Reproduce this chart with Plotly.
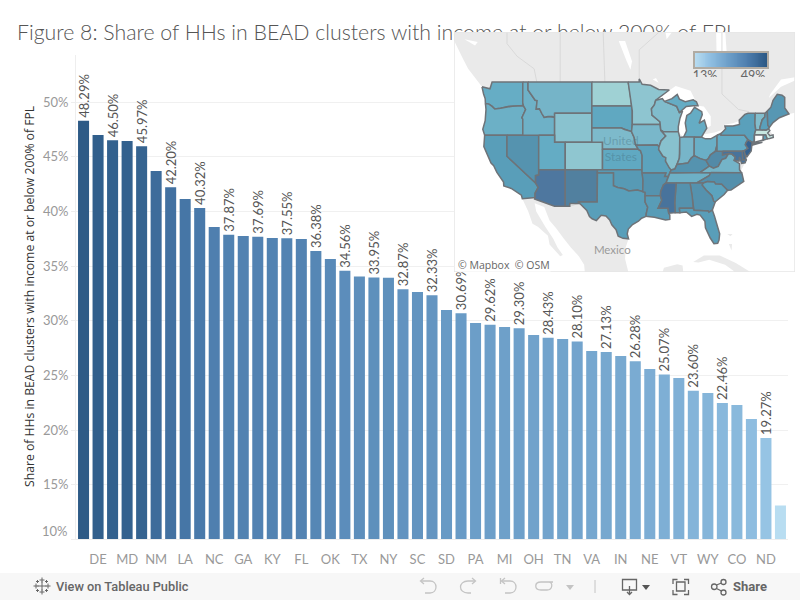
import math
import numpy as np
import plotly.graph_objects as go

# ---------- data ----------
states = ["NJ","DE","MS","MD","AZ","NM","DC","LA","WV","NC","AL","GA","AR","KY","NV","FL","ME","OK","CA","TX","NH","NY","MO","SC","RI","SD","KS","PA","UT","MI","WA","OH","OR","TN","ID","VA","MT","IN","IA","NE","WI","VT","IL","WY","MN","CO","AK","ND","MA"]
values = [48.29,47.00,46.50,46.44,45.97,43.70,42.20,41.13,40.32,38.57,37.87,37.76,37.69,37.56,37.55,37.47,36.38,35.65,34.56,34.05,33.95,33.93,32.87,32.63,32.33,30.98,30.69,29.79,29.62,29.42,29.30,28.69,28.43,28.33,28.10,27.23,27.13,26.77,26.28,25.58,25.07,24.76,23.60,23.39,22.46,22.29,21.00,19.27,13.10]
labeled = [0,2,4,6,8,10,12,14,16,18,20,22,24,26,28,30,32,34,36,38,40,42,44,47]
axis_labeled = ["DE","MD","NM","LA","NC","GA","KY","FL","OK","TX","NY","SC","SD","PA","MI","OH","TN","VA","IN","NE","VT","WY","CO","ND"]
y_ticks = [10,15,20,25,30,35,40,45,50]
legend_ticks = ["13%","49%"]
legend_range = [13,49]
title_text = "Figure 8: Share of HHs in BEAD clusters with income at or below 200% of FPL"
y_title = "Share of HHs in BEAD clusters with income at or below 200% of FPL"
map_overrides = {"LA":35.0,"FL":34.5}

bar_scale = [[0,"#b9ddf1"],[0.2,"#91c0e2"],[0.47,"#6c9ec8"],[0.75,"#4a7aab"],[1,"#2a5783"]]
map_scale = [(13,"#c8e8e2"),(19.3,"#9fd1d4"),(23,"#8cc4d0"),(27,"#76b5c9"),(30,"#62abc4"),(34,"#5aa0bb"),(38,"#5592ae"),(43.7,"#51809f"),(46,"#4e77a0"),(47,"#426f99"),(49,"#2f5c8c")]

shapes_ll = {
"WA":[(-124.7,48.4),(-123.2,48.15),(-122.8,49),(-117.03,49),(-117.04,46.4),(-116.92,46),(-119,45.93),(-119.6,45.92),(-121.2,45.65),(-122.3,45.55),(-122.8,45.9),(-123.4,46.2),(-124.05,46.27),(-124.1,46.9),(-124.4,47.5)],
"OR":[(-124.05,46.27),(-123.4,46.2),(-122.8,45.9),(-122.3,45.55),(-121.2,45.65),(-119.6,45.92),(-119,45.93),(-116.92,46),(-116.5,45.5),(-117.2,44.4),(-117.03,44.2),(-117.03,42),(-124.2,42),(-124.55,42.84),(-124.1,44),(-123.95,45.5)],
"CA":[(-124.2,42),(-120,42),(-120,39),(-114.63,35),(-114.14,34.3),(-114.72,33.4),(-114.72,32.72),(-117.12,32.53),(-117.3,33.1),(-118.4,33.75),(-119.2,34.15),(-120.6,34.55),(-120.65,35.15),(-121.9,36.6),(-122.5,37.6),(-123,38),(-123.8,39.3),(-124.35,40.4)],
"NV":[(-120,42),(-114.04,42),(-114.04,36.2),(-114.63,36.1),(-114.63,35),(-120,39)],
"ID":[(-117.03,49),(-116.05,49),(-116.05,48),(-114.7,46.7),(-114.35,46.65),(-114.5,45.55),(-113.9,45.6),(-113.45,44.95),(-113,44.45),(-112.3,44.55),(-111.5,44.55),(-111.05,44.48),(-111.05,42),(-117.03,42),(-117.03,44.2),(-117.2,44.4),(-116.5,45.5),(-116.92,46),(-117.04,46.4)],
"MT":[(-116.05,49),(-104.05,49),(-104.05,45),(-111.05,45),(-111.05,44.48),(-111.5,44.55),(-112.3,44.55),(-113,44.45),(-113.45,44.95),(-113.9,45.6),(-114.5,45.55),(-114.35,46.65),(-114.7,46.7),(-116.05,48)],
"WY":[(-111.05,45),(-104.05,45),(-104.05,41),(-111.05,41)],
"UT":[(-114.04,42),(-111.05,42),(-111.05,41),(-109.05,41),(-109.05,37),(-114.04,37)],
"CO":[(-109.05,41),(-102.05,41),(-102.05,37),(-109.05,37)],
"AZ":[(-114.04,37),(-109.05,37),(-109.05,31.33),(-111.07,31.33),(-114.81,32.5),(-114.72,32.72),(-114.72,33.4),(-114.14,34.3),(-114.63,35),(-114.63,36.1),(-114.04,36.2)],
"NM":[(-109.05,37),(-103,37),(-103.05,32),(-106.6,32),(-106.5,31.78),(-108.2,31.78),(-108.2,31.33),(-109.05,31.33)],
"ND":[(-104.05,49),(-97.23,49),(-96.85,47.6),(-96.56,45.94),(-104.05,45.94)],
"SD":[(-104.05,45.94),(-96.56,45.94),(-96.45,45.3),(-96.45,43.5),(-96.6,42.5),(-97.9,42.8),(-98.5,43),(-104.05,43)],
"NE":[(-104.05,43),(-98.5,43),(-97.9,42.8),(-96.6,42.5),(-96.1,41.7),(-95.85,40.7),(-95.3,40),(-102.05,40),(-102.05,41),(-104.05,41)],
"KS":[(-102.05,40),(-95.3,40),(-94.9,39.8),(-94.6,39.1),(-94.62,37),(-102.05,37)],
"OK":[(-103,37),(-94.62,37),(-94.43,35.4),(-94.48,33.64),(-95.5,33.9),(-97.1,33.75),(-98,34.1),(-99.2,34.3),(-100,34.56),(-100,36.5),(-103,36.5)],
"TX":[(-106.6,32),(-103.05,32),(-103,36.5),(-100,36.5),(-100,34.56),(-99.2,34.3),(-98,34.1),(-97.1,33.75),(-95.5,33.9),(-94.48,33.64),(-94.04,33.55),(-94.04,32),(-93.55,31.2),(-93.83,30.1),(-93.85,29.7),(-94.7,29.4),(-95.3,28.9),(-96.4,28.35),(-97.2,27.6),(-97.4,26.8),(-97.15,25.96),(-98.2,26.05),(-99.1,26.4),(-99.5,27.5),(-100.3,28.3),(-100.7,29.1),(-101.4,29.77),(-102.3,29.88),(-102.8,29.3),(-103.2,29),(-104,29.3),(-104.5,29.65),(-105,30.65),(-106.5,31.78)],
"MN":[(-97.23,49),(-95.15,49),(-95.15,49.38),(-94.6,48.72),(-93,48.6),(-91.5,48.07),(-89.5,48),(-90.8,47.3),(-92.05,46.7),(-92.3,46.1),(-92.85,45.6),(-92.75,44.75),(-91.25,43.85),(-91.22,43.5),(-96.45,43.5),(-96.45,45.3),(-96.56,45.94),(-96.85,47.6)],
"IA":[(-96.45,43.5),(-91.22,43.5),(-91.1,42.7),(-90.15,41.9),(-91.05,41.2),(-91.42,40.38),(-91.73,40.61),(-95.77,40.58),(-95.85,40.7),(-96.1,41.7),(-96.6,42.5)],
"MO":[(-95.77,40.58),(-91.73,40.61),(-91.42,40.38),(-91.5,40),(-90.7,39),(-90.15,38.8),(-90.2,38.3),(-89.5,37.3),(-89.15,36.98),(-89.4,36.5),(-89.7,36),(-90.37,36),(-90.15,36.5),(-94.62,36.5),(-94.62,37),(-94.6,39.1),(-94.9,39.8),(-95.3,40),(-95.85,40.7)],
"AR":[(-94.62,36.5),(-90.15,36.5),(-90.37,36),(-89.7,36),(-90.1,35),(-90.6,34.7),(-91.1,33.7),(-91.17,33),(-94.04,33),(-94.04,33.55),(-94.48,33.64),(-94.43,35.4)],
"LA":[(-94.04,33),(-91.17,33),(-90.9,32.3),(-91.6,31),(-89.73,31),(-89.6,30.2),(-89.4,29.9),(-89.4,29.2),(-90.2,29.1),(-91.3,29.4),(-92.3,29.55),(-93.85,29.7),(-93.83,30.1),(-93.55,31.2),(-94.04,32)],
"WI":[(-92.05,46.7),(-90.8,46.9),(-90.4,46.55),(-88.1,45.9),(-87.6,45.1),(-87,45.3),(-87.5,44.3),(-87.8,43.2),(-87.8,42.5),(-90.65,42.5),(-91.1,42.7),(-91.22,43.5),(-91.25,43.85),(-92.75,44.75),(-92.85,45.6),(-92.3,46.1)],
"IL":[(-90.65,42.5),(-87.8,42.5),(-87.53,41.7),(-87.53,39.35),(-87.6,38.7),(-88.05,37.8),(-88.45,37.1),(-89.15,36.98),(-89.5,37.3),(-90.2,38.3),(-90.15,38.8),(-90.7,39),(-91.5,40),(-91.42,40.38),(-91.05,41.2),(-90.15,41.9),(-91.1,42.7)],
"MI":[(-86.8,41.76),(-84.8,41.76),(-83.45,41.73),(-83.1,42.2),(-82.45,43),(-82.9,44.07),(-83.9,43.65),(-83.3,44.8),(-83.4,45.2),(-84.75,45.78),(-85.5,45),(-86.2,44.7),(-86.5,43.7),(-86.25,42.6)],
"MI_UP":[(-90.4,46.55),(-89,46.9),(-88,47.45),(-87.6,46.85),(-86.5,46.5),(-85,46.75),(-84.4,46.5),(-84.1,46),(-85,46),(-86.3,45.9),(-87.6,45.1),(-88.1,45.9)],
"IN":[(-87.53,41.7),(-86.8,41.76),(-84.8,41.76),(-84.82,39.1),(-85.4,38.7),(-86,38),(-87,37.9),(-88.05,37.8),(-87.6,38.7),(-87.53,39.35)],
"OH":[(-84.8,41.76),(-83.45,41.73),(-82.7,41.5),(-81.7,41.5),(-80.52,42),(-80.52,40.64),(-80.85,39.7),(-81.75,39.2),(-82.2,38.6),(-82.6,38.4),(-83.7,38.65),(-84.82,39.1)],
"KY":[(-89.4,36.5),(-89.15,36.98),(-88.45,37.1),(-88.05,37.8),(-87,37.9),(-86,38),(-85.4,38.7),(-84.82,39.1),(-83.7,38.65),(-82.6,38.4),(-81.97,37.54),(-83.67,36.6),(-88.07,36.5)],
"TN":[(-90.1,35),(-89.7,36),(-89.4,36.5),(-88.07,36.5),(-83.67,36.6),(-81.68,36.59),(-82,36.1),(-84.32,35)],
"WV":[(-82.6,38.4),(-82.2,38.6),(-81.75,39.2),(-80.85,39.7),(-80.52,40.64),(-80.52,39.72),(-79.48,39.72),(-79.48,39.2),(-78.35,39.4),(-78.9,38.7),(-79.6,38.5),(-80.3,37.5),(-81.2,37.25),(-81.97,37.54)],
"VA":[(-83.67,36.6),(-81.97,37.54),(-81.2,37.25),(-80.3,37.5),(-79.6,38.5),(-78.9,38.7),(-78.35,39.4),(-77.72,39.32),(-77.1,38.9),(-77.3,38.4),(-76.3,37.9),(-76.3,37),(-75.95,36.55),(-81.68,36.59)],
"NC":[(-81.68,36.59),(-75.87,36.55),(-75.5,35.25),(-76.5,34.65),(-77.9,33.9),(-78.55,33.86),(-79.67,34.8),(-80.8,34.82),(-81.05,35.15),(-82.3,35.2),(-83.1,35),(-84.32,35),(-82,36.1)],
"SC":[(-83.1,35),(-82.3,35.2),(-81.05,35.15),(-80.8,34.82),(-79.67,34.8),(-78.55,33.86),(-79.2,33.2),(-80.85,32.05),(-81.15,32.1),(-81.5,33),(-82.6,33.9),(-83.35,34.7)],
"GA":[(-85.6,35),(-84.32,35),(-83.1,35),(-83.35,34.7),(-82.6,33.9),(-81.5,33),(-81.15,32.1),(-80.85,32.05),(-81.4,30.72),(-82.05,30.36),(-82.2,30.57),(-84.86,30.7),(-85,31.5),(-85.18,32.87)],
"AL":[(-88.2,35),(-85.6,35),(-85.18,32.87),(-85,31.5),(-85,31),(-87.6,31),(-87.5,30.3),(-88.4,30.3),(-88.47,31.9)],
"MS":[(-90.1,35),(-88.2,35),(-88.47,31.9),(-88.4,30.3),(-89.6,30.2),(-89.73,31),(-91.6,31),(-90.9,32.3),(-91.17,33),(-91.1,33.7),(-90.6,34.7)],
"FL":[(-87.6,31),(-85,31),(-84.86,30.7),(-82.2,30.57),(-82.05,30.36),(-81.4,30.72),(-81,29.7),(-80.5,28.4),(-80.03,26.8),(-80.15,25.75),(-80.4,25.2),(-81.1,25.15),(-81.8,26.1),(-82.7,27.8),(-82.8,28.9),(-83.7,29.9),(-84.3,30.05),(-85.3,29.7),(-86.3,30.4),(-87.5,30.3)],
"PA":[(-80.52,42),(-79.76,42.25),(-79.76,42),(-75.35,42),(-74.7,41.36),(-75.1,40.95),(-75.2,40.65),(-74.72,40.15),(-75.4,39.8),(-75.79,39.72),(-80.52,39.72)],
"NY":[(-79.76,42.25),(-78.9,42.9),(-79.05,43.27),(-77.5,43.27),(-76.3,43.5),(-76.35,44.1),(-75.3,44.85),(-74.7,45),(-73.35,45),(-73.4,43.6),(-73.25,42.75),(-73.5,42.05),(-73.5,41.3),(-73.65,41),(-73.9,41),(-74.7,41.36),(-75.35,42),(-79.76,42)],
"NY_LI":[(-74,40.6),(-72,41),(-73.7,40.9)],
"VT":[(-73.35,45),(-71.5,45),(-71.55,44.5),(-72.05,44.1),(-72.45,43.1),(-72.46,42.73),(-73.25,42.75),(-73.4,43.6)],
"NH":[(-71.5,45),(-71.08,45.3),(-70.98,43.4),(-70.7,43.07),(-70.85,42.87),(-71.3,42.7),(-72.46,42.73),(-72.45,43.1),(-72.05,44.1),(-71.55,44.5)],
"ME":[(-71.08,45.3),(-70.4,45.8),(-70,46.7),(-69.2,47.45),(-68.3,47.35),(-67.8,47.07),(-67.8,45.7),(-67,44.9),(-68.8,44.4),(-70,43.75),(-70.7,43.07),(-70.98,43.4)],
"MA":[(-73.5,42.05),(-73.25,42.75),(-72.46,42.73),(-71.3,42.7),(-70.85,42.87),(-70.6,42.65),(-71,42.3),(-70.6,41.95),(-70,42.05),(-69.95,41.7),(-70.65,41.55),(-71.12,41.5),(-71.38,42.02),(-71.8,42.02)],
"CT":[(-73.5,42.05),(-71.8,42.02),(-71.85,41.32),(-73.65,41),(-73.5,41.3)],
"RI":[(-71.8,42.02),(-71.38,42.02),(-71.12,41.5),(-71.85,41.32)],
"NJ":[(-74.7,41.36),(-73.9,41),(-74,40.5),(-74.1,39.75),(-74.9,38.93),(-75.5,39.5),(-75.4,39.8),(-74.72,40.15),(-75.2,40.65),(-75.1,40.95)],
"DE":[(-75.79,39.72),(-75.4,39.8),(-75.05,38.45),(-75.7,38.46)],
"MD":[(-79.48,39.72),(-75.79,39.72),(-75.7,38.46),(-75.05,38.45),(-75.25,38.03),(-75.9,37.95),(-76.3,38.9),(-76.4,38.3),(-77.3,38.4),(-77.1,38.9),(-77.72,39.32),(-78.35,39.4),(-79.48,39.2)],
}
land_ll = [(-131,56),(-130.5,54.5),(-128.3,51.8),(-127.3,50.6),(-124.7,48.4),(-124.1,46.9),(-124.05,46.27),(-123.95,45.5),(-124.1,44),(-124.55,42.84),(-124.2,42),(-124.35,40.4),(-123.8,39.3),(-123,38),(-122.5,37.6),(-121.9,36.6),(-120.65,35.15),(-120.6,34.55),(-119.2,34.15),(-118.4,33.75),(-117.3,33.1),(-117.12,32.53),(-116,30.5),(-115.2,28.5),(-114.2,28),(-112.3,26.5),(-112,25),(-110,23),(-109.5,23.2),(-110.5,24.5),(-111.3,26),(-112.8,28),(-114.5,30.5),(-114.8,31.8),(-113,31.2),(-112,29),(-110.8,27.8),(-109.3,26),(-108,24.5),(-106.5,23),(-105.5,21.5),(-105.3,19.5),(-97,19.5),(-97.8,22.5),(-97.7,24.5),(-97.15,25.96),(-97.4,26.8),(-97.2,27.6),(-96.4,28.35),(-95.3,28.9),(-94.7,29.4),(-93.85,29.7),(-92.3,29.55),(-91.3,29.4),(-90.2,29.1),(-89.4,29.2),(-89.4,29.9),(-88.4,30.3),(-87.5,30.3),(-86.3,30.4),(-85.3,29.7),(-84.3,30.05),(-83.7,29.9),(-82.8,28.9),(-82.7,27.8),(-81.8,26.1),(-81.1,25.15),(-80.4,25.2),(-80.15,25.75),(-80.03,26.8),(-80.5,28.4),(-81,29.7),(-81.4,30.72),(-80.85,32.05),(-79.2,33.2),(-77.9,33.9),(-76.5,34.65),(-75.5,35.25),(-75.87,36.55),(-75.95,37),(-75.25,38.03),(-75.05,38.45),(-74.9,38.93),(-74.1,39.75),(-74,40.5),(-72,41),(-70.65,41.55),(-69.95,41.7),(-70,42.05),(-70.85,42.87),(-70.7,43.07),(-70,43.75),(-68.8,44.4),(-67,44.9),(-65,45.2),(-63,47),(-63,56)]
other_land_ll = [
 [(-85,22),(-83,23.1),(-80,23.1),(-77,21.8),(-74.2,20.2),(-77,19.8),(-77.5,20.5),(-79,21.5),(-82,22.4),(-84,21.9)],
 [(-90.5,21),(-88,21.6),(-87,21.4),(-86.8,19.5),(-91,19.5)],
 [(-78.6,26.8),(-77.6,26.8),(-78,26.4)],
 [(-78.3,25.1),(-77.7,25.1),(-77.8,24)],
]
lakes_ll = [
 [(-92,46.75),(-88.3,48.5),(-85.5,47.9),(-84.6,46.7),(-85,46.75),(-86.5,46.5),(-87.6,46.85),(-88,47.45),(-89,46.9),(-90.4,46.55),(-90.8,46.9)],
 [(-87.8,42.5),(-86.8,41.7),(-86.25,42.6),(-86.5,43.7),(-86.2,44.7),(-85.5,45),(-84.75,45.78),(-85,46),(-86.3,45.9),(-87.6,45.1),(-87.5,44.3),(-87.8,43.2)],
 [(-84.1,46),(-83,45.9),(-81.7,44.6),(-81.7,43.3),(-82.45,43),(-82.9,44.07),(-83.9,43.65),(-83.3,44.8),(-83.4,45.2),(-84.75,45.78)],
 [(-83.45,41.73),(-83.1,42.1),(-81,42.4),(-78.9,42.9),(-80.52,42),(-81.7,41.5),(-82.7,41.5)],
 [(-79.4,43.25),(-79.05,43.27),(-77.5,43.27),(-76.3,43.5),(-76.3,44),(-77.5,43.65),(-79,43.5)],
 [(-99,53.8),(-97.8,53.8),(-96.5,51.5),(-96.8,50.5),(-97.5,51.5)],
 [(-80.7,55),(-79,55),(-78.6,51.5),(-79.5,51.3),(-80.6,52)],
 [(-90.4,55.5),(-88,55.5),(-90,54)],
 [(-70.8,47),(-68.5,48.4),(-65.8,49.2),(-65.8,49.6),(-68.5,49.3),(-70.5,47.5)],
 [(-92.6,49.3),(-92,49.5),(-91.5,48.9)],
 [(-128,54),(-125.5,53.7),(-126,53.3)],
]
province_lines_ll = [
 [(-120,56),(-120,53.5),(-118.1,52.07),(-114.9,50.6),(-114.4,49)],
 [(-110,56),(-110,49)],
 [(-102,56),(-101.6,49)],
 [(-95.15,49),(-95.15,52.8),(-93.1,53.9),(-89,56)],
 [(-79.6,56),(-79.6,47.5),(-76.5,45.5),(-74.5,45.2)],
 [(-106.5,31.78),(-108.2,31.33)],
]

# ---------- helpers ----------
def merc(lat):
    return math.asinh(math.tan(math.radians(lat)))

def hex2rgb(h):
    return [int(h[i:i+2],16) for i in (1,3,5)]

def map_color(v):
    for (a,ca),(b,cb) in zip(map_scale,map_scale[1:]):
        if v <= b:
            t = max(0,(v-a)/(b-a))
            A,B = hex2rgb(ca),hex2rgb(cb)
            return "rgb(%d,%d,%d)"%tuple(A[i]+(B[i]-A[i])*t for i in range(3))
    return map_scale[-1][1]

def ring(pts):
    pts = list(pts)+[pts[0]]
    return [p[0] for p in pts],[merc(p[1]) for p in pts]

W,H = 800,600
def dx(a,b): return [a/W,b/W]
def dy(top,bot): return [1-bot/H,1-top/H]

FONT = "Lato, 'Open Sans', sans-serif"
fig = go.Figure()

# ---------- page layer (title lives below the map) ----------
fig.add_trace(go.Scatter(x=[17],y=[34.5],mode="text",text=[title_text],textposition="middle right",
    textfont=dict(family=FONT,size=21.3,color="#555555",weight=300),cliponaxis=False,hoverinfo="skip",xaxis="x",yaxis="y"))

# ---------- bars ----------
bar_text = [f"{v:.2f}%" if i in labeled else "" for i,v in enumerate(values)]
fig.add_trace(go.Bar(x=list(range(len(values))),y=values,width=0.76,
    marker=dict(color=values,colorscale=bar_scale,cmin=legend_range[0],cmax=legend_range[1],line=dict(width=0)),
    text=bar_text,textposition="outside",textangle=-90,constraintext="none",cliponaxis=False,
    outsidetextfont=dict(family=FONT,size=13,color="#555555"),customdata=states,hoverinfo="skip",xaxis="x2",yaxis="y2"))

# ---------- map ----------
lon_l,lon_r = -129.96,-65.87
m_t,m_b = 1.1477,0.3608
rx=[lon_l,lon_r,lon_r,lon_l,lon_l]; ry=[m_b,m_b,m_t,m_t,m_b]
def poly(x,y,fill,line="rgba(0,0,0,0)",w=0):
    fig.add_trace(go.Scatter(x=x,y=y,mode="lines",fill="toself",fillcolor=fill,line=dict(color=line,width=w),hoverinfo="skip",xaxis="x3",yaxis="y3"))
poly(rx,ry,"#ffffff")
poly(*ring(land_ll),"#eaeaea")
for pts in other_land_ll:
    poly(*ring(pts),"#eaeaea")
for lk in lakes_ll:
    poly(*ring(lk),"#ffffff")
for ln in province_lines_ll:
    fig.add_trace(go.Scatter(x=[p[0] for p in ln],y=[merc(p[1]) for p in ln],mode="lines",line=dict(color="#d4d4d4",width=0.8),hoverinfo="skip",xaxis="x3",yaxis="y3"))
lookup = dict(zip(states,values))
lookup.update(map_overrides)
for name,pts in shapes_ll.items():
    key = name.split("_")[0]
    col = "#ffffff" if key=="CT" else map_color(lookup.get(key,30))
    poly(*ring(pts),col,"#6e7378",1.5)
fig.add_trace(go.Scatter(x=[-98.6,-98.6],y=[merc(41.0),merc(38.7)],mode="text",text=["United","States"],
    textfont=dict(family=FONT,size=12,color="rgba(70,110,125,0.4)"),hoverinfo="skip",xaxis="x3",yaxis="y3"))
fig.add_trace(go.Scatter(x=[-100.2],y=[merc(23.9)],mode="text",text=["Mexico"],
    textfont=dict(family=FONT,size=11.5,color="#9a9a9a"),hoverinfo="skip",xaxis="x3",yaxis="y3"))
fig.add_trace(go.Scatter(x=rx,y=ry,mode="lines",line=dict(color="#e6e6e6",width=1.5),hoverinfo="skip",xaxis="x3",yaxis="y3"))

# ---------- map legend ----------
ramp = np.linspace(legend_range[0],legend_range[1],80)
fig.add_trace(go.Heatmap(z=[ramp.tolist()],x=ramp.tolist(),y=[0],colorscale=bar_scale,zmin=legend_range[0],zmax=legend_range[1],showscale=False,hoverinfo="skip",xaxis="x4",yaxis="y4"))
fig.add_trace(go.Scatter(x=[705,753],y=[76.5,76.5],mode="text",text=legend_ticks,textposition="middle center",cliponaxis=True,
    textfont=dict(family=FONT,size=12.5,color="#666666"),hoverinfo="skip",xaxis="x5",yaxis="y5"))

# ---------- layout ----------
hidden = dict(visible=False,fixedrange=True)
box = dict(showline=True,mirror=True,linecolor="#b0aba3",linewidth=1.5,showticklabels=False,ticks="",showgrid=False,zeroline=False,fixedrange=True)
layout = dict(
    width=W,height=H,margin=dict(l=0,r=0,t=0,b=0),paper_bgcolor="#ffffff",plot_bgcolor="rgba(0,0,0,0)",
    showlegend=False,bargap=0.24,
    xaxis=dict(domain=[0,1],range=[0,W],anchor="y",**hidden),
    yaxis=dict(domain=[0,1],range=[H,0],anchor="x",**hidden),
    xaxis2=dict(domain=dx(76,788),range=[-0.52,48.52],anchor="y2",tickmode="array",
        tickvals=[i for i in range(1,48,2)],ticktext=axis_labeled,tickfont=dict(family=FONT,size=13,color="#999999"),
        ticks="outside",ticklen=8,tickcolor="rgba(0,0,0,0)",showgrid=False,zeroline=False,showline=True,linecolor="#eeeeee",linewidth=1,fixedrange=True),
    yaxis2=dict(domain=dy(55,539.3),range=[10,54.31],anchor="x2",tickmode="array",tickvals=y_ticks,
        ticktext=[""]+[f"{t}%" for t in y_ticks[1:]],tickfont=dict(family=FONT,size=13,color="#999999"),
        ticks="outside",ticklen=4,tickcolor="#eeeeee",showgrid=True,gridcolor="#f0f0f0",gridwidth=1,zeroline=False,showline=True,linecolor="#eeeeee",linewidth=1,fixedrange=True),
    xaxis3=dict(domain=dx(454,795),range=[lon_l,lon_r],anchor="y3",**hidden),
    yaxis3=dict(domain=dy(32,272),range=[m_b,m_t],anchor="x3",**hidden),
    xaxis4=dict(domain=dx(695,767),range=[legend_range[0],legend_range[1]],anchor="y4",**box),
    yaxis4=dict(domain=dy(52.5,67),range=[-0.5,0.5],anchor="x4",**box),
    xaxis5=dict(domain=dx(690,775),range=[690,775],anchor="y5",**hidden),
    yaxis5=dict(domain=dy(68,77),range=[77,68],anchor="x5",**hidden),
)
fig.update_layout(**layout)

def note(x,y,text,size=13,color="#999999",xanchor="center",angle=0,bg=None,family=FONT,weight=None):
    fig.add_annotation(x=x/W,y=1-y/H,xref="paper",yref="paper",text=text,showarrow=False,xanchor=xanchor,yanchor="middle",
        textangle=angle,bgcolor=bg,font=dict(family=family,size=size,color=color,weight=weight),borderpad=0)

note(69,531,"10%",xanchor="right")
note(29,296,y_title,size=12.2,color="#333333",angle=-90,family="'Open Sans', sans-serif")
note(457,264.5,"© Mapbox  © OSM",size=10.5,color="#666666",xanchor="left",bg="rgba(255,255,255,0.65)",family="'Open Sans', sans-serif")
note(55,586.5,"View on Tableau Public",size=12.8,color="#666666",xanchor="left",family="Roboto, sans-serif",weight=500)
note(732,586.5,"Share",size=13,color="#666666",xanchor="left",family="Roboto, sans-serif",weight=700)

# ---------- toolbar ----------
def shp(**k):
    fig.add_shape(xref="x",yref="y",**k)
shp(type="rect",x0=0,x1=800,y0=573,y1=600,fillcolor="#f7f7f7",line_width=0,layer="below")
LG=dict(color="#c4c4c4",width=1.3); DG=dict(color="#666666",width=1.3)
# tableau mark
for cx,cy,r in [(42,586,4.5),(36,586,2.5),(48,586,2.5),(42,580,2.5),(42,592,2.5),(37.5,581.5,1.5),(46.5,581.5,1.5),(37.5,590.5,1.5),(46.5,590.5,1.5)]:
    shp(type="line",x0=cx-r,x1=cx+r,y0=cy,y1=cy,line=dict(color="#666666",width=1))
    shp(type="line",x0=cx,x1=cx,y0=cy-r,y1=cy+r,line=dict(color="#666666",width=1))
# undo / redo / revert / refresh
shp(type="path",path="M 421 581 L 430 581 C 438 581 438 593 430 593 L 425 593",line=LG)
shp(type="path",path="M 424 578 L 420.5 581 L 424 584",line=LG)
shp(type="path",path="M 475 581 L 468 581 C 458 581 458 593 468 593 L 471 593",line=LG)
shp(type="path",path="M 472 578 L 475.5 581 L 472 584",line=LG)
shp(type="path",path="M 502 581 L 510 581 C 518 581 518 593 510 593 L 505 593",line=LG)
shp(type="path",path="M 500.5 578 L 500.5 584 M 505 578 L 501.5 581 L 505 584",line=LG)
shp(type="path",path="M 541 582 L 553 582 M 541 582 C 534 582 534 590 541 590 L 547 590 C 553 590 553 582 549 582",line=LG)
shp(type="path",path="M 566 585 L 574 585 L 570 590 Z",fillcolor="#c4c4c4",line_width=0)
shp(type="line",x0=595,x1=595,y0=580,y1=593,line=dict(color="#c4c4c4",width=1))
# download
shp(type="path",path="M 629 590 L 622.5 590 L 622.5 579.5 L 636.5 579.5 L 636.5 590 L 630 590 M 629.5 586 L 629.5 594 M 627 592 L 629.5 594.5 L 632 592",line=DG)
shp(type="path",path="M 642 585 L 650 585 L 646 590 Z",fillcolor="#555555",line_width=0)
# fullscreen
shp(type="path",path="M 673 584 L 673 579.5 L 677.5 579.5 M 684 579.5 L 688.5 579.5 L 688.5 584 M 688.5 590 L 688.5 594.5 L 684 594.5 M 677.5 594.5 L 673 594.5 L 673 590 M 676.5 582 L 685 582 L 685 591 L 676.5 591 Z",line=DG)
# share
shp(type="circle",x0=711.5,x1=717,y0=584,y1=589.5,line=DG)
shp(type="circle",x0=721,x1=726,y0=579.5,y1=584.5,line=DG)
shp(type="circle",x0=721,x1=726,y0=590,y1=595,line=DG)
shp(type="path",path="M 716.5 585 L 721.5 583 M 716.5 588.5 L 721.5 591",line=DG)

fig.write_html("out.html",config=dict(displayModeBar=False),
    post_script="document.body.style.margin='0';document.documentElement.style.overflow='hidden';")
